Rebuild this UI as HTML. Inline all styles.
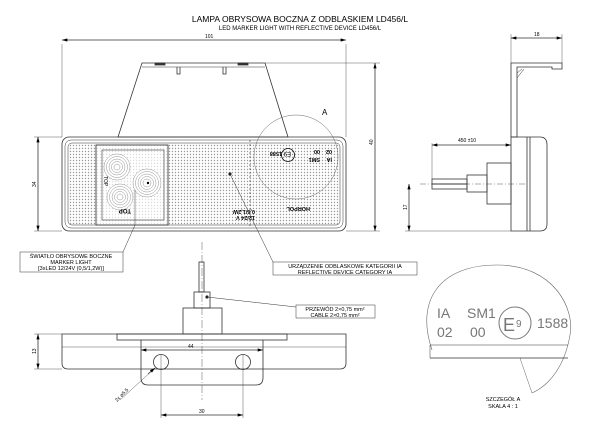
<!DOCTYPE html>
<html><head><meta charset="utf-8"><style>
html,body{margin:0;padding:0;background:#fff;}
svg{display:block;font-family:"Liberation Sans",sans-serif;}
</style></head><body>
<svg width="600" height="441" viewBox="0 0 600 441" xmlns="http://www.w3.org/2000/svg">
<defs>
<pattern id="dots" width="3" height="3" patternUnits="userSpaceOnUse"><circle cx="1.5" cy="1.5" r="0.7" fill="#999"/></pattern>
<marker id="ar" viewBox="0 0 10 6" refX="10" refY="3" markerWidth="10" markerHeight="4" orient="auto-start-reverse"><path d="M0,0L10,3L0,6z" fill="#000"/></marker>
</defs>
<g fill="none" stroke="#333" stroke-width="0.8">
<text x="300" y="22" font-size="8.5" text-anchor="middle" fill="#000" stroke="none">LAMPA OBRYSOWA BOCZNA Z ODBLASKIEM LD456/L</text>
<text x="300" y="30" font-size="6" text-anchor="middle" fill="#000" stroke="none">LED MARKER LIGHT WITH REFLECTIVE DEVICE LD456/L</text>

<line x1="62" y1="40" x2="346" y2="40" marker-start="url(#ar)" marker-end="url(#ar)"/>
<line x1="62" y1="44" x2="62" y2="137" stroke-width="0.4"/>
<line x1="346" y1="44" x2="346" y2="137" stroke-width="0.4"/>
<text x="205" y="38" font-size="5" fill="#000" stroke="none">101</text>
<line x1="375" y1="63" x2="375" y2="231" marker-start="url(#ar)" marker-end="url(#ar)"/>
<line x1="265" y1="63" x2="380" y2="63" stroke-width="0.4"/>
<line x1="346" y1="231" x2="380" y2="231" stroke-width="0.4"/>
<text x="373" y="145" font-size="5" fill="#000" stroke="none" transform="rotate(-90 373 145)">40</text>
<line x1="38" y1="137" x2="38" y2="231" marker-start="url(#ar)" marker-end="url(#ar)"/>
<line x1="34" y1="137" x2="62" y2="137" stroke-width="0.4"/>
<line x1="34" y1="231" x2="62" y2="231" stroke-width="0.4"/>
<text x="36" y="187" font-size="5" fill="#000" stroke="none" transform="rotate(-90 36 187)">34</text>

<path d="M142,63 L265,63 L288,137 L118,137 Z"/>
<line x1="142" y1="67" x2="265" y2="67" stroke-width="0.5"/>
<rect x="155" y="63" width="10" height="2" fill="#333"/>
<rect x="238" y="63" width="10" height="2" fill="#333"/>
<path d="M177,67v7h3v-7M223,67v7h3v-7"/>
<rect x="62" y="137" width="284" height="94" rx="7"/>
<rect x="65" y="140" width="278" height="88" rx="6" stroke-width="0.5"/>
<rect x="68" y="143" width="272" height="82" rx="4" fill="url(#dots)" stroke-width="0.5"/>
<rect x="96" y="145" width="72" height="80" fill="#fff"/>
<rect x="96" y="145" width="72" height="80" fill="url(#dots)" opacity="0.35"/>
<rect x="102" y="150" width="62" height="70" stroke-width="0.6"/>
<g stroke="#777" stroke-width="0.4">
<circle cx="117" cy="167" r="13" fill="#fff"/><circle cx="117" cy="167" r="10.5"/><circle cx="117" cy="167" r="8"/><circle cx="117" cy="167" r="5.5"/><circle cx="117" cy="167" r="3"/>
<circle cx="120" cy="197" r="13" fill="#fff"/><circle cx="120" cy="197" r="10.5"/><circle cx="120" cy="197" r="8"/><circle cx="120" cy="197" r="5.5"/><circle cx="120" cy="197" r="3"/>
<circle cx="147" cy="183" r="14" fill="#fff"/><circle cx="147" cy="183" r="11.5"/><circle cx="147" cy="183" r="9"/><circle cx="147" cy="183" r="6.5"/><circle cx="147" cy="183" r="4"/>
</g>
<circle cx="148" cy="183" r="1.2" fill="#000" stroke="none"/>
<text x="131" y="209" font-size="6" font-weight="bold" fill="#000" stroke="none" transform="rotate(180 131 209)">TOP</text>
<text x="104" y="176" font-size="5" fill="#000" stroke="none" transform="rotate(90 104 176)">TOP</text>
<line x1="250" y1="140" x2="250" y2="228" stroke-dasharray="2 2" stroke-width="0.6"/>
<circle cx="230" cy="174" r="1.2" fill="#000"/>
<circle cx="296" cy="157" r="42" stroke-width="0.5" stroke="#666"/>
<text x="322" y="115" font-size="8" fill="#000" stroke="none">A</text>
<g transform="rotate(180 300 155)" fill="#000" stroke="none" font-size="5.5" font-weight="bold">
<text x="268" y="152">IA</text><text x="280" y="152">SM1</text>
<text x="268" y="160">02</text><text x="280" y="160">00</text>
<text x="318" y="158">1588</text>
</g>
<circle cx="288" cy="155" r="6.5" stroke="#000"/>
<text x="285" y="158" font-size="6" fill="#000" stroke="none" transform="rotate(180 288 155)">E9</text>
<g fill="#000" stroke="none" font-size="5.5" font-weight="bold" transform="rotate(180 230 214)">
<text x="205" y="212">12/24 V</text><text x="205" y="218">0,6/1,2W</text>
<text x="150" y="221">HORPOL</text>
</g>

<line x1="511" y1="38" x2="562" y2="38" marker-start="url(#ar)" marker-end="url(#ar)"/>
<line x1="511" y1="34" x2="511" y2="63" stroke-width="0.4"/>
<line x1="562" y1="34" x2="562" y2="63" stroke-width="0.4"/>
<text x="534" y="36" font-size="5" fill="#000" stroke="none">18</text>
<path d="M511,63 H562 V69 H552 V67 H517 V137 H511 Z"/>
<path d="M517,73 L522,69 M517,78 L524,69" stroke-width="0.5"/>
<path d="M511,137 H540 Q547,137 547,145 V224 Q547,231 540,231 H511 Z"/>
<line x1="527" y1="137" x2="527" y2="231"/><line x1="530" y1="137" x2="530" y2="231"/>
<rect x="487" y="163" width="24" height="41"/>
<rect x="467" y="175" width="20" height="17"/>
<rect x="432" y="179" width="35" height="5"/><rect x="432" y="184" width="35" height="5"/>
<line x1="420" y1="184" x2="525" y2="184" stroke-dasharray="6 2 1 2" stroke-width="0.4"/>
<line x1="432" y1="145" x2="511" y2="145" marker-start="url(#ar)" marker-end="url(#ar)"/>
<line x1="432" y1="143" x2="432" y2="179" stroke-width="0.4"/>
<text x="458" y="142" font-size="5" fill="#000" stroke="none">450 ±10</text>
<line x1="409" y1="184" x2="409" y2="231" marker-start="url(#ar)" marker-end="url(#ar)"/>
<line x1="405" y1="231" x2="511" y2="231" stroke-width="0.4"/>
<text x="407" y="210" font-size="5" fill="#000" stroke="none" transform="rotate(-90 407 210)">17</text>

<polyline points="123,252 135,225 135,190" stroke-width="0.5"/>
<polyline points="273,262 230,174" stroke-width="0.5"/>
<rect x="20" y="252" width="103" height="20" stroke-width="0.5"/>
<g fill="#000" stroke="none" font-size="5.5" text-anchor="middle">
<text x="71" y="258">ŚWIATŁO OBRYSOWE BOCZNE</text>
<text x="71" y="264">MARKER LIGHT</text>
<text x="71" y="270">[3xLED 12/24V (0,5/1,2W)]</text>
</g>
<rect x="273" y="262" width="144" height="13" stroke-width="0.5"/>
<g fill="#000" stroke="none" font-size="5.5" text-anchor="middle">
<text x="345" y="268">URZĄDZENIE ODBLASKOWE KATEGORII IA</text>
<text x="345" y="274">REFLECTIVE DEVICE CATEGORY IA</text>
</g>

<line x1="202" y1="242" x2="202" y2="400" stroke-dasharray="8 2 1 2" stroke-width="0.4"/>
<rect x="199" y="262" width="5" height="30"/>
<rect x="194" y="292" width="16" height="16"/>
<circle cx="207" cy="297" r="1.2" fill="#000"/>
<rect x="183" y="308" width="39" height="26"/>
<line x1="207" y1="297" x2="296" y2="307" stroke-width="0.5"/>
<rect x="296" y="305" width="79" height="13" stroke-width="0.5"/>
<g fill="#000" stroke="none" font-size="5.5" text-anchor="middle">
<text x="335" y="311">PRZEWÓD 2×0,75 mm²</text>
<text x="335" y="317">CABLE 2×0,75 mm²</text>
</g>
<path d="M62,334 H346 V363 Q346,369 340,369 H68 Q62,369 62,363 Z"/>
<rect x="117" y="334" width="170" height="6"/>
<line x1="62" y1="347" x2="346" y2="347" stroke-width="0.4"/>
<path d="M141,340 V378 Q141,385 148,385 H256 Q263,385 263,378 V340"/>
<circle cx="161" cy="362" r="7.5"/><circle cx="243" cy="362" r="7.5"/>
<line x1="161" y1="355" x2="161" y2="418" stroke-width="0.4"/>
<line x1="243" y1="355" x2="243" y2="418" stroke-width="0.4"/>
<line x1="141" y1="350" x2="263" y2="350" marker-start="url(#ar)" marker-end="url(#ar)"/>
<text x="188" y="348" font-size="5" fill="#000" stroke="none">44</text>
<line x1="161" y1="415" x2="243" y2="415" marker-start="url(#ar)" marker-end="url(#ar)"/>
<text x="199" y="413" font-size="5" fill="#000" stroke="none">30</text>
<line x1="38" y1="334" x2="38" y2="369" marker-start="url(#ar)" marker-end="url(#ar)"/>
<line x1="34" y1="334" x2="62" y2="334" stroke-width="0.4"/>
<line x1="34" y1="369" x2="62" y2="369" stroke-width="0.4"/>
<text x="36" y="354" font-size="5" fill="#000" stroke="none" transform="rotate(-90 36 354)">13</text>
<line x1="120" y1="400" x2="155" y2="368" stroke-width="0.4"/>
<line x1="148" y1="374" x2="155" y2="368" marker-end="url(#ar)"/>
<text x="117" y="402" font-size="5" fill="#000" stroke="none" transform="rotate(-45 117 402)">2x ⌀5,5</text>

<path d="M432,350 C415,300 440,265 497,265 C555,265 575,310 570,335 C565,365 550,385 532,393" stroke-width="0.6" stroke="#666"/>
<line x1="520" y1="358" x2="532" y2="393" stroke-width="0.5" stroke="#666"/>
<line x1="430" y1="345" x2="568" y2="345" stroke-width="0.6"/>
<line x1="430" y1="358" x2="568" y2="358" stroke-width="0.8"/>
<line x1="430" y1="345" x2="430" y2="358" stroke-width="0.5"/>
<g fill="#777" stroke="none" font-size="14">
<text x="437" y="318">IA</text><text x="467" y="318">SM1</text>
<text x="437" y="337">02</text><text x="470" y="337">00</text>
<text x="537" y="328">1588</text>
</g>
<circle cx="515" cy="323" r="16" stroke="#777" stroke-width="1"/>
<text x="503" y="331" font-size="18" fill="#777" stroke="none">E</text>
<text x="516" y="327" font-size="10" fill="#777" stroke="none">9</text>
<g fill="#000" stroke="none" font-size="5.5" text-anchor="middle">
<text x="503" y="401">SZCZEGÓŁ A</text>
<text x="503" y="408">SKALA 4 : 1</text>
</g>
</g>
</svg>
</body></html>
